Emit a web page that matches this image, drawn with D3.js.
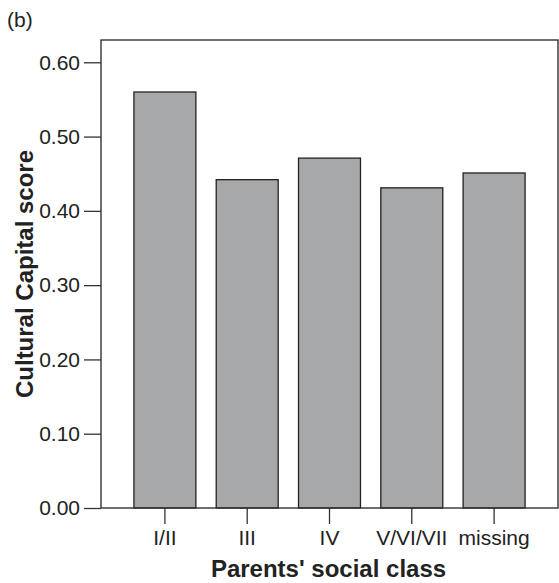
<!DOCTYPE html>
<html>
<head>
<meta charset="utf-8">
<script src="https://cdn.jsdelivr.net/npm/d3@7"></script>
<style>
  body { margin: 0; background: #fff; }
  svg { display: block; }
  text { font-family: "Liberation Sans", Arial, Helvetica, sans-serif; fill: #222; }
</style>
</head>
<body>
<svg id="chart" width="559" height="583"></svg>
<script>
const categories = ["I/II", "III", "IV", "V/VI/VII", "missing"];
const values = [0.560, 0.442, 0.471, 0.431, 0.451];
const yTicks = [0.0, 0.1, 0.2, 0.3, 0.4, 0.5, 0.6];

const svg = d3.select("#chart");
const mLeft = 101, mRight = 558, mTop = 40, mBottom = 508;

const x = d3.scaleBand().domain(categories).range([mLeft, mRight])
  .paddingInner(0.247).paddingOuter(0.4);
const y = d3.scaleLinear().domain([0, 0.63]).range([mBottom, mTop]);

// bars
svg.append("g").selectAll("rect").data(categories).join("rect")
  .attr("x", d => x(d))
  .attr("y", (d, i) => y(values[i]))
  .attr("width", x.bandwidth())
  .attr("height", (d, i) => y(0) - y(values[i]))
  .attr("fill", "#a7a8aa")
  .attr("stroke", "#222")
  .attr("stroke-width", 1.3);

// frame
svg.append("rect")
  .attr("x", mLeft).attr("y", mTop)
  .attr("width", mRight - mLeft).attr("height", mBottom - mTop)
  .attr("fill", "none").attr("stroke", "#333").attr("stroke-width", 1.4);

// y axis
const yAxis = d3.axisLeft(y).tickValues(yTicks).tickFormat(d3.format(".2f"))
  .tickSize(17).tickPadding(4);
const gy = svg.append("g").attr("transform", `translate(${mLeft},0)`).call(yAxis);
gy.select(".domain").remove();
gy.selectAll(".tick line").attr("stroke", "#333").attr("stroke-width", 1.3);
gy.selectAll(".tick text").attr("font-size", 21).attr("fill", "#222")
  .style("font-family", '"Liberation Sans", Arial, sans-serif');

// x axis
const xAxis = d3.axisBottom(x).tickSize(16).tickPadding(6);
const gx = svg.append("g").attr("transform", `translate(0,${mBottom})`).call(xAxis);
gx.select(".domain").remove();
gx.selectAll(".tick line").attr("stroke", "#333").attr("stroke-width", 1.3);
gx.selectAll(".tick text").attr("font-size", 21).attr("fill", "#222")
  .style("font-family", '"Liberation Sans", Arial, sans-serif');

// titles
svg.append("text").attr("x", (mLeft + mRight) / 2 - 1).attr("y", 577)
  .attr("text-anchor", "middle").attr("font-size", 24).attr("font-weight", "bold")
  .text("Parents' social class");

svg.append("text")
  .attr("transform", `translate(33,${(mTop + mBottom) / 2}) rotate(-90)`)
  .attr("text-anchor", "middle").attr("font-size", 24).attr("font-weight", "bold")
  .text("Cultural Capital score");

svg.append("text").attr("x", 7).attr("y", 27).attr("font-size", 21).text("(b)");
</script>
</body>
</html>
